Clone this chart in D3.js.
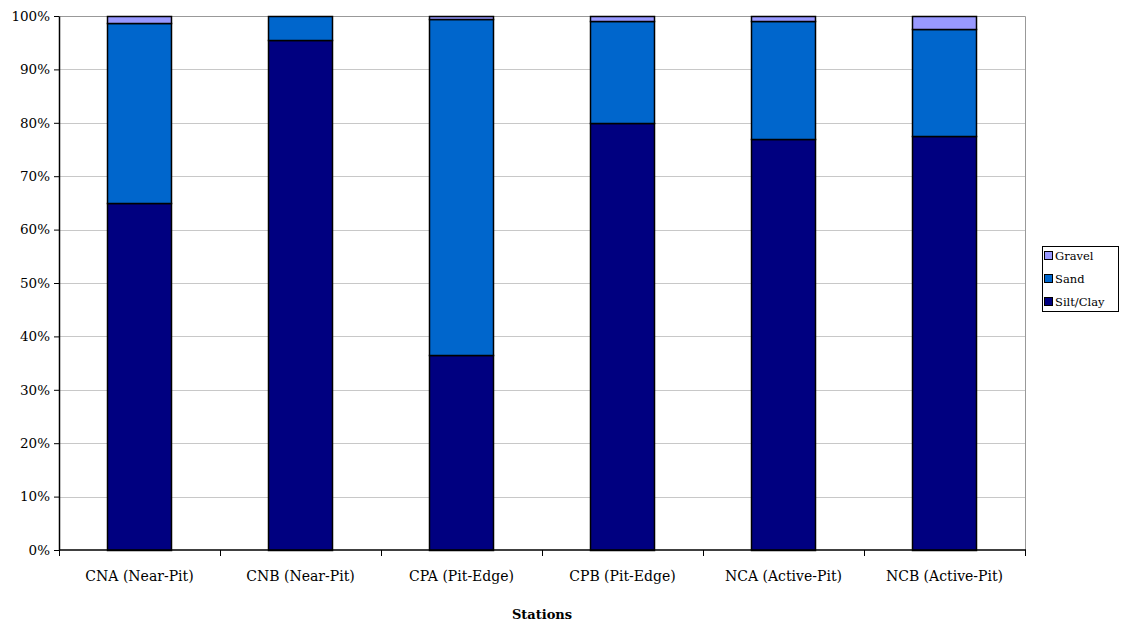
<!DOCTYPE html>
<html>
<head>
<meta charset="utf-8">
<script src="https://cdn.jsdelivr.net/npm/d3@7"></script>
<style>
  body { margin: 0; background: #fff; }
  svg { font-family: "DejaVu Serif", "Liberation Serif", serif; }
</style>
</head>
<body>
<div id="place"></div>
<script>
// donnees (pourcentages)
const stations = ["CNA (Near-Pit)", "CNB (Near-Pit)", "CPA (Pit-Edge)", "CPB (Pit-Edge)", "NCA (Active-Pit)", "NCB (Active-Pit)"];
const siltClay = [65.0, 95.5, 36.6, 80.0, 77.0, 77.6];
const sand = [33.7, 4.5, 62.8, 19.0, 22.0, 19.9];
const gravel = [1.3, 0.0, 0.6, 1.0, 1.0, 2.5];
const yTicks = [0, 10, 20, 30, 40, 50, 60, 70, 80, 90, 100];

const series = [
    { name: "Silt/Clay", values: siltClay, color: "#000080" },
    { name: "Sand", values: sand, color: "#0066cc" },
    { name: "Gravel", values: gravel, color: "#9999ff" }
];

const width = 1124, height = 626;
const margin = { top: 16, right: 99, bottom: 76, left: 59 };
const innerW = width - margin.left - margin.right;
const innerH = height - margin.top - margin.bottom;

let svg = d3.select("#place").append("svg")
    .attr("width", width)
    .attr("height", height);

let g = svg.append("g")
    .attr("transform", "translate(" + margin.left + "," + margin.top + ")");

let x = d3.scaleBand()
    .domain(stations)
    .range([0, innerW])
    .paddingInner(0.6)
    .paddingOuter(0.3);

let y = d3.scaleLinear().domain([0, 100]).range([innerH, 0]);

// grille
g.selectAll(".grid")
    .data(yTicks.filter(d => d > 0 && d < 100))
    .join("line")
    .attr("x1", 0).attr("x2", innerW)
    .attr("y1", d => Math.round(y(d)) + 0.5).attr("y2", d => Math.round(y(d)) + 0.5)
    .attr("stroke", "#c8c8c8");

// bord haut et droit
g.append("path")
    .attr("d", "M0,0.5H" + (innerW + 0.5) + "V" + innerH)
    .attr("fill", "none")
    .attr("stroke", "#999");

// empilement
const rows = stations.map((s, i) => {
    let r = { station: s };
    series.forEach(se => r[se.name] = se.values[i]);
    return r;
});
const stack = d3.stack().keys(series.map(s => s.name))(rows);

g.selectAll(".layer")
    .data(stack)
    .join("g")
    .attr("fill", (d, i) => series[i].color)
    .selectAll("rect")
    .data(d => d.filter(p => p[1] - p[0] > 0))
    .join("rect")
    .attr("x", d => Math.round(x(d.data.station)) + 0.5)
    .attr("width", Math.round(x.bandwidth()))
    .attr("y", d => Math.round(y(d[1])) + 0.5)
    .attr("height", d => Math.round(y(d[0])) - Math.round(y(d[1])))
    .attr("stroke", "#000")
    .attr("stroke-width", 1.5);

// axe y
let yAxis = g.append("g")
    .call(d3.axisLeft(y).tickValues(yTicks).tickFormat(d => d + "%").tickSize(5).tickSizeOuter(0));
yAxis.select(".domain").attr("stroke", "#000").attr("stroke-width", 1.5);
yAxis.selectAll("line").attr("stroke", "#000");
yAxis.selectAll("text").attr("font-size", 13.5).attr("fill", "#000").attr("font-family", "DejaVu Serif").attr("dx", -1);

// axe x avec graduations entre les categories
let xAxis = g.append("g").attr("transform", "translate(0," + innerH + ")");
xAxis.append("line")
    .attr("x1", 0).attr("x2", innerW + 1)
    .attr("stroke", "#000").attr("stroke-width", 1.5);
let step = innerW / stations.length;
xAxis.selectAll(".tk")
    .data(d3.range(stations.length + 1))
    .join("line")
    .attr("x1", d => Math.round(d * step) + 0.5).attr("x2", d => Math.round(d * step) + 0.5)
    .attr("y1", 0).attr("y2", 6)
    .attr("stroke", "#000");
xAxis.selectAll(".lbl")
    .data(stations)
    .join("text")
    .attr("x", d => x(d) + x.bandwidth() / 2)
    .attr("y", 31)
    .attr("text-anchor", "middle")
    .attr("font-size", 14)
    .text(d => d);

svg.append("text")
    .attr("x", margin.left + innerW / 2)
    .attr("y", 619)
    .attr("text-anchor", "middle")
    .attr("font-size", 13)
    .attr("font-weight", "bold")
    .text("Stations");

// legende
let leg = svg.append("g").attr("transform", "translate(1042,246)");
leg.append("rect")
    .attr("x", 0.5).attr("y", 0.5)
    .attr("width", 76).attr("height", 65)
    .attr("fill", "#fff").attr("stroke", "#000");
leg.selectAll(".item")
    .data(series.slice().reverse())
    .join("g")
    .attr("transform", (d, i) => "translate(2," + (10 + i * 23) + ")")
    .each(function (d) {
        let it = d3.select(this);
        it.append("rect")
            .attr("x", 0.5).attr("y", -4.5)
            .attr("width", 8).attr("height", 8)
            .attr("fill", d.color).attr("stroke", "#000");
        it.append("text")
            .attr("x", 11).attr("y", 4)
            .attr("font-size", 11.5)
            .text(d.name);
    });
</script>
</body>
</html>
